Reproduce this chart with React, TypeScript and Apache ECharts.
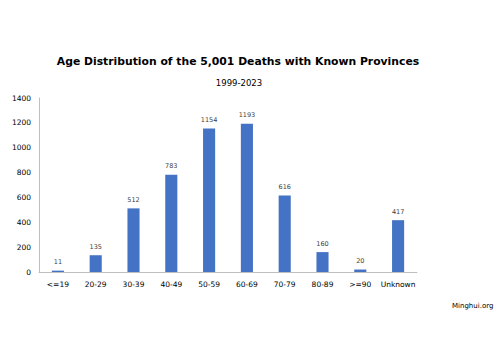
import React, { useEffect, useRef } from "react";
import * as echarts from "echarts";

const categories = ["<=19", "20-29", "30-39", "40-49", "50-59", "60-69", "70-79", "80-89", ">=90", "Unknown"];
const deaths = [11, 135, 512, 783, 1154, 1193, 616, 160, 20, 417];
const titleText = "Age Distribution of the 5,001 Deaths with Known Provinces";
const subtitleText = "1999-2023";
const sourceText = "Minghui.org";

export default function App() {
  const ref = useRef<HTMLDivElement>(null);
  useEffect(() => {
    const chart = echarts.init(ref.current!, null, { renderer: "svg" });
    const font = "DejaVu Sans";
    chart.setOption({
      animation: false,
      backgroundColor: "#ffffff",
      title: [
        {
          text: titleText,
          left: 238,
          textAlign: "center",
          top: 56,
          padding: 0,
          textStyle: { fontFamily: font, fontSize: 10.8, fontWeight: "bold", color: "#000" },
        },
        {
          text: subtitleText,
          left: 239,
          textAlign: "center",
          top: 78,
          padding: 0,
          textStyle: { fontFamily: font, fontSize: 8.5, fontWeight: "normal", color: "#000" },
        },
        {
          text: sourceText,
          left: 452,
          top: 302,
          padding: 0,
          textStyle: { fontFamily: font, fontSize: 7, fontWeight: "normal", color: "#000" },
        },
      ],
      grid: { left: 39, right: 83, top: 98, bottom: 86 },
      xAxis: {
        type: "category",
        data: categories,
        axisLine: { lineStyle: { color: "#bfbfbf" } },
        axisTick: { show: false },
        axisLabel: { fontFamily: font, fontSize: 7.5, color: "#000", margin: 8, interval: 0 },
      },
      yAxis: {
        type: "value",
        min: 0,
        max: 1400,
        interval: 200,
        axisLine: { show: true, lineStyle: { color: "#bfbfbf" } },
        axisTick: { show: false },
        splitLine: { show: false },
        axisLabel: {
          fontFamily: font,
          fontSize: 7.5,
          color: "#000",
          margin: 8,
          formatter: (v: number) => String(v),
        },
      },
      series: [
        {
          type: "bar",
          data: deaths,
          barWidth: "32%",
          itemStyle: { color: "#4472C4" },
          label: {
            show: true,
            position: "top",
            distance: 5,
            fontFamily: font,
            fontSize: 6.5,
            color: "#404040",
          },
        },
      ],
    });
    return () => chart.dispose();
  }, []);
  return <div ref={ref} style={{ width: 500, height: 358, position: "absolute", left: 0, top: 0 }} />;
}
